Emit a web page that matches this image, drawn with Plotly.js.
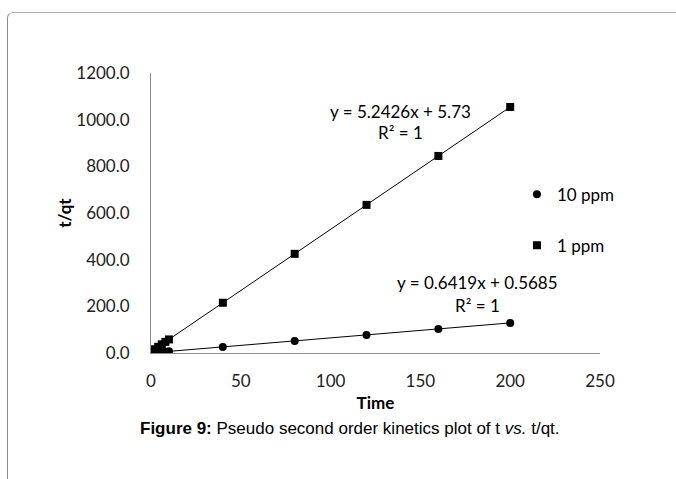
<!DOCTYPE html>
<html>
<head>
<meta charset="utf-8">
<script src="https://cdn.plot.ly/plotly-3.0.1.min.js"></script>
<style>
html,body{margin:0;padding:0;background:#fff;width:676px;height:479px;overflow:hidden;}
#frame{position:absolute;left:7px;top:12px;width:720px;height:520px;border-left:1px solid #8c8c8c;border-top:1px solid #b0b0b0;border-top-left-radius:6px;}
#chart{position:absolute;left:0;top:0;width:676px;height:479px;}
</style>
</head>
<body>
<div id="frame"></div>
<div id="chart"></div>
<script>
// Data
const time = [1, 2, 4, 6, 8, 10, 40, 80, 120, 160, 200];
const tq10ppm = [1.2, 1.9, 3.1, 4.4, 5.7, 7.0, 26.2, 51.9, 77.6, 103.3, 128.9];
const tq1ppm = [11.0, 16.2, 26.7, 37.2, 47.7, 58.2, 215.4, 425.1, 634.8, 844.5, 1054.3];
const seriesNames = ["10 ppm", "1 ppm"];
const eq10 = ["y = 0.6419x + 0.5685", "R² = 1"];
const eq1 = ["y = 5.2426x + 5.73", "R² = 1"];
const yTicks = [0, 200, 400, 600, 800, 1000, 1200];
const yTickText = ["0.0", "200.0", "400.0", "600.0", "800.0", "1000.0", "1200.0"];
const xTicks = [0, 50, 100, 150, 200, 250];
const caption = "<b>Figure 9:</b> Pseudo second order kinetics plot of t <i>vs.</i> t/qt.";

const chartFont = "Lato, 'Open Sans', 'Liberation Sans', sans-serif";
const fs = 17;

const traces = [
  {x: time, y: tq10ppm, mode: "lines", line: {color: "#000", width: 1}, showlegend: false, hoverinfo: "skip"},
  {x: time, y: tq1ppm, mode: "lines", line: {color: "#000", width: 1}, showlegend: false, hoverinfo: "skip"},
  {x: time, y: tq10ppm, mode: "markers", name: seriesNames[0], legendgroup: "a",
   marker: {symbol: "circle", size: 8, color: "#000"}},
  {x: time, y: tq1ppm, mode: "markers", name: seriesNames[1], legendgroup: "b",
   marker: {symbol: "square", size: 8, color: "#000"}}
];

const layout = {
  width: 676, height: 479,
  paper_bgcolor: "rgba(0,0,0,0)", plot_bgcolor: "rgba(0,0,0,0)",
  margin: {l: 151, r: 76, t: 73, b: 126, pad: 0},
  font: {family: chartFont, size: fs, color: "#222"},
  xaxis: {
    range: [0, 250], tickvals: xTicks, ticktext: xTicks.map(String),
    showline: true, linecolor: "#8c8c8c", linewidth: 1, showgrid: false, zeroline: false,
    ticks: "", ticklabelstandoff: 13,
    title: {text: "<b>Time</b>", font: {family: chartFont, size: fs, color: "#000"}, standoff: 6},
    automargin: false
  },
  yaxis: {
    range: [0, 1200], tickvals: yTicks, ticktext: yTickText,
    showline: true, linecolor: "#8c8c8c", linewidth: 1, showgrid: false, zeroline: false,
    ticks: "", ticklabelstandoff: 17,
    title: {text: "<b>t/qt</b>", font: {family: chartFont, size: fs, color: "#000"}, standoff: 0},
    automargin: false
  },
  legend: {
    x: 0.815, y: 0.63, xanchor: "left", yanchor: "top",
    bgcolor: "rgba(0,0,0,0)", font: {family: chartFont, size: fs, color: "#000"},
    tracegroupgap: 26, itemwidth: 30
  },
  annotations: [
    {xref: "x", yref: "y", x: 139, y: 1037, text: eq1[0], showarrow: false, xanchor: "center", yanchor: "middle",
     font: {family: chartFont, size: fs, color: "#000"}},
    {xref: "x", yref: "y", x: 139, y: 943, text: eq1[1], showarrow: false, xanchor: "center", yanchor: "middle",
     font: {family: chartFont, size: fs, color: "#000"}},
    {xref: "x", yref: "y", x: 182, y: 301, text: eq10[0], showarrow: false, xanchor: "center", yanchor: "middle",
     font: {family: chartFont, size: fs, color: "#000"}},
    {xref: "x", yref: "y", x: 182, y: 203, text: eq10[1], showarrow: false, xanchor: "center", yanchor: "middle",
     font: {family: chartFont, size: fs, color: "#000"}},
    {xref: "paper", yref: "paper", x: (350 - 151) / 449, y: -0.271, text: caption, showarrow: false,
     xanchor: "center", yanchor: "middle",
     font: {family: "'Liberation Sans', Arial, sans-serif", size: 17, color: "#000"}}
  ]
};

Plotly.newPlot("chart", traces, layout, {displayModeBar: false, staticPlot: true});
</script>
</body>
</html>
